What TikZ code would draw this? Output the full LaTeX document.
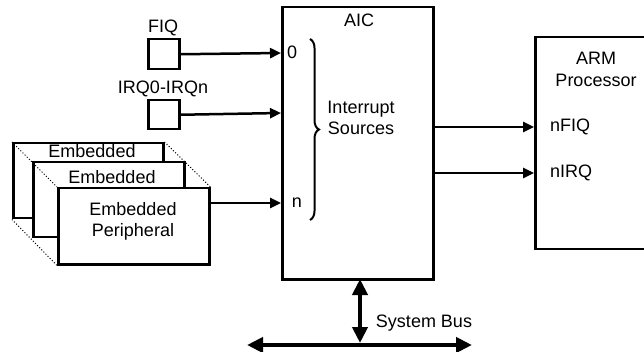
\documentclass[tikz,border=0pt]{standalone}
\usepackage{fontspec}
\setmainfont{Liberation Sans}
\usetikzlibrary{arrows.meta,decorations.pathreplacing,positioning}

\tikzstyle{blk} = [draw, line width=2.5pt, fill=white, anchor=north west, inner sep=0pt]
\tikzstyle{txt} = [font=\fontsize{18}{21}\selectfont, inner sep=0pt, align=center]
\tikzstyle{sig} = [line width=2.5pt, -{Triangle[length=11pt,width=10pt]}]
\tikzstyle{bus} = [line width=4pt, {Triangle[length=16pt,width=15pt]}-{Triangle[length=16pt,width=15pt]}]
\tikzstyle{hid} = [dash pattern=on 1pt off 2pt, line width=1pt]

\begin{document}
\begin{tikzpicture}[x=1pt, y=-1pt]
\clip (0,0) rectangle (644,352);

\node[blk, minimum width=31pt, minimum height=30pt] (fiq) at (147,38) {};
\node[blk, minimum width=31pt, minimum height=29pt] (irq) at (147,99) {};
\node[txt] (fiqlbl) at (163,28) {FIQ};
\node[txt] (irqlbl) at (163,89) {IRQ0-IRQn};

\node[blk, minimum width=150pt, minimum height=75pt] (emb1) at (12,142) {};
\node[blk, minimum width=151pt, minimum height=75pt] (emb2) at (32,161) {};
\node[blk, minimum width=151pt, minimum height=76pt] (emb3) at (57,187) {};
\node[txt] (emb1lbl) at (92,151) {Embedded};
\node[txt] (emb2lbl) at (112,177) {Embedded};
\node[txt] (emb3lbl) at (133,221) {Embedded\\Peripheral};
\draw[hid] (emb1.north west) -- (emb3.north west);
\draw[hid] (emb1.north east) -- (emb3.north east);
\draw[hid] (emb1.south west) -- (emb3.south west);

\node[blk, minimum width=151pt, minimum height=272pt] (aic) at (281,6) {};
\node[txt] (aiclbl) at (359,20) {AIC};
\node[txt] (zero) at (292,52) {0};
\node[txt] (nn) at (297,203) {n};
\node[txt] (src) at (361,118) {Interrupt\\Sources};
\coordinate (br0) at (310,39);
\coordinate (br1) at (310,220);
\draw[decorate, decoration={brace, amplitude=9pt}, line width=2pt] (br0) -- (br1);

\node[blk, minimum width=130pt, minimum height=212pt] (arm) at (534,36) {};
\node[txt, font=\fontsize{18}{22}\selectfont] (armlbl) at (596,69) {ARM\\Processor};
\node[txt, anchor=west] (nfiq) at (550,127) {nFIQ};
\node[txt, anchor=west] (nirq) at (550,173) {nIRQ};

\coordinate (in0) at (281,53);
\coordinate (in1) at (281,113);
\coordinate (inn) at (281,203);
\coordinate (out0) at (534,127);
\coordinate (out1) at (534,173);
\draw[sig] (fiq.east) -- (in0);
\draw[sig] (irq.east) -- (in1);
\draw[sig] (emb3.north east |- inn) -- (inn);
\draw[sig] (aic.east |- out0) -- (out0);
\draw[sig] (aic.east |- out1) -- (out1);

\coordinate (bustop) at (360,279);
\coordinate (busmid) at (360,343);
\coordinate (busl) at (247,345);
\coordinate (busr) at (472,345);
\draw[bus] (bustop) -- (busmid);
\draw[bus] (busl) -- (busr);
\node[txt] (buslbl) at (424,323) {System Bus};
\end{tikzpicture}
\end{document}
